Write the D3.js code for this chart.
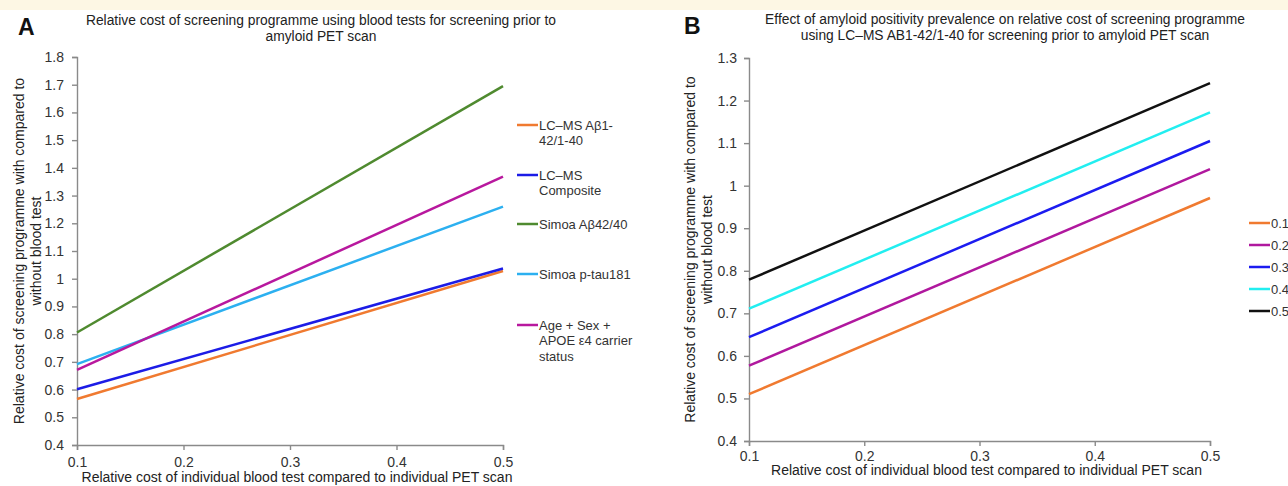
<!DOCTYPE html>
<html>
<head>
<meta charset="utf-8">
<script src="https://cdn.jsdelivr.net/npm/d3@7"></script>
<style>
  body { margin: 0; background: #fff; }
  svg { display: block; font-family: "Liberation Sans", Arial, sans-serif; }
  .axis path, .axis line { stroke: #8a8a8a; stroke-width: 1.4; }
  .chart-line { fill: none; stroke-width: 2.5; }
</style>
</head>
<body>
<svg id="chart"></svg>
<script>
// x values (relative cost of blood test vs PET scan)
const costX = [0.1, 0.5];
const xTicks = [0.1, 0.2, 0.3, 0.4, 0.5];

// Panel A - blood tests
const lcmsAb = [0.566, 1.028];
const lcmsComposite = [0.601, 1.037];
const simoaAb = [0.806, 1.695];
const simoaPtau = [0.692, 1.260];
const ageSexApoe = [0.671, 1.368];
const namesA = [["LC–MS Aβ1-", "42/1-40"], ["LC–MS", "Composite"], ["Simoa Aβ42/40"], ["Simoa p-tau181"], ["Age + Sex +", "APOE ε4 carrier", "status"]];
const colorsA = ["#f07a30", "#1c1ce6", "#4f8a2f", "#2cb0f0", "#b8189e"];
const yTicksA = [0.4, 0.5, 0.6, 0.7, 0.8, 0.9, 1, 1.1, 1.2, 1.3, 1.4, 1.5, 1.6, 1.7, 1.8];

// Panel B - amyloid positivity prevalence
const prev01 = [0.510, 0.971];
const prev02 = [0.577, 1.039];
const prev03 = [0.644, 1.105];
const prev04 = [0.711, 1.172];
const prev05 = [0.779, 1.241];
const namesB = [["0.1"], ["0.2"], ["0.3"], ["0.4"], ["0.5"]];
const colorsB = ["#f07a30", "#b0189e", "#1c1cf0", "#22eef0", "#111111"];
const yTicksB = [0.4, 0.5, 0.6, 0.7, 0.8, 0.9, 1, 1.1, 1.2, 1.3];

const svg = d3.select("#chart").attr("width", 1288).attr("height", 486);

// yellow strip across the top
svg.append("rect").attr("x", 0).attr("y", 0).attr("width", 1288).attr("height", 10).attr("fill", "#fdf7e4");

class costChart {
    constructor(_config, _series) {
        this.config = _config;
        this.series = _series;
        this.initVis();
    }

    initVis() {
        let vis = this;
        let c = vis.config;

        vis.xScale = d3.scaleLinear().domain([0.1, 0.5]).range([c.left, c.right]);
        vis.yScale = d3.scaleLinear().domain(c.yDomain).range([c.bottom, c.top]);

        vis.xAxis = d3.axisBottom(vis.xScale)
            .tickValues(xTicks)
            .tickSize(5)
            .tickPadding(c.xPad)
            .tickFormat(d3.format(".1f"));

        vis.yAxis = d3.axisLeft(vis.yScale)
            .tickValues(c.yTicks)
            .tickSize(5)
            .tickPadding(c.yPad)
            .tickFormat(d => d === 1 ? "1" : d3.format(".1f")(d));

        vis.g = svg.append("g");

        // panel letter
        vis.g.append("text")
            .attr("x", c.letterX).attr("y", c.letterY)
            .style("font-size", "23px").style("font-weight", "bold").style("fill", "#111")
            .text(c.letter);

        // title
        c.title.forEach((t, i) => {
            vis.g.append("text")
                .attr("x", c.titleX).attr("y", c.titleY + i * 16)
                .attr("text-anchor", "middle")
                .style("font-size", "13.8px").style("fill", "#222")
                .text(t);
        });

        // y label (two lines)
        const yl = ["Relative cost of screening programme with compared to", "without blood test"];
        yl.forEach((t, i) => {
            vis.g.append("text")
                .attr("transform", `translate(${c.yLabelX + i * 17},${(c.top + c.bottom) / 2}) rotate(-90)`)
                .attr("text-anchor", "middle")
                .style("font-size", "14px").style("fill", "#222")
                .text(t);
        });

        // x label
        vis.g.append("text")
            .attr("x", (c.left + c.right) / 2 + 7).attr("y", c.xLabelY)
            .attr("text-anchor", "middle")
            .style("font-size", "14px").style("fill", "#222")
            .text("Relative cost of individual blood test compared to individual PET scan");

        vis.xAxisG = vis.g.append("g").attr("class", "axis x-axis")
            .attr("transform", `translate(0,${c.bottom})`);
        vis.yAxisG = vis.g.append("g").attr("class", "axis y-axis")
            .attr("transform", `translate(${c.left},0)`);

        vis.updateVis();
    }

    updateVis() {
        let vis = this;
        vis.line = d3.line()
            .x((d, i) => vis.xScale(costX[i]))
            .y(d => vis.yScale(d));
        vis.renderVis();
    }

    renderVis() {
        let vis = this;
        let c = vis.config;

        vis.xAxisG.call(vis.xAxis)
            .attr("font-size", 14).attr("font-family", "'Liberation Sans', Arial, sans-serif");
        vis.yAxisG.call(vis.yAxis)
            .attr("font-size", 14).attr("font-family", "'Liberation Sans', Arial, sans-serif");
        vis.g.selectAll(".tick text").attr("fill", "#333");

        vis.g.selectAll(".chart-line")
            .data(vis.series)
            .join("path")
            .attr("class", "chart-line")
            .attr("d", vis.line)
            .attr("stroke", (d, i) => c.colors[i]);

        // legend
        const leg = vis.g.append("g");
        c.names.forEach((lines, i) => {
            const y = c.legendY[i];
            leg.append("line")
                .attr("x1", c.legendX).attr("x2", c.legendX + 21)
                .attr("y1", y).attr("y2", y)
                .attr("stroke", c.colors[i]).attr("stroke-width", 2.5);
            lines.forEach((t, j) => {
                leg.append("text")
                    .attr("x", c.legendX + 22).attr("y", y + 4.5 + j * 15.5)
                    .style("font-size", "13px").style("fill", "#333")
                    .text(t);
            });
        });
    }
}

new costChart({
    left: 77, right: 503, top: 57, bottom: 445,
    yDomain: [0.4, 1.8], yTicks: yTicksA, yPad: 8, xPad: 7,
    letter: "A", letterX: 18, letterY: 35,
    title: ["Relative cost of screening programme using blood tests for screening prior to", "amyloid PET scan"],
    titleX: 321, titleY: 25,
    yLabelX: 24, xLabelY: 482,
    colors: colorsA, names: namesA,
    legendX: 517, legendY: [125, 175, 224, 274, 325]
}, [lcmsAb, lcmsComposite, simoaAb, simoaPtau, ageSexApoe]);

new costChart({
    left: 749, right: 1210, top: 58, bottom: 441,
    yDomain: [0.4, 1.3], yTicks: yTicksB, yPad: 7, xPad: 5,
    letter: "B", letterX: 684, letterY: 34,
    title: ["Effect of amyloid positivity prevalence on relative cost of screening programme", "using LC–MS AB1-42/1-40 for screening prior to amyloid PET scan"],
    titleX: 1005, titleY: 24,
    yLabelX: 695, xLabelY: 475,
    colors: colorsB, names: namesB,
    legendX: 1249, legendY: [223, 245, 267, 289, 311]
}, [prev01, prev02, prev03, prev04, prev05]);
</script>
</body>
</html>
